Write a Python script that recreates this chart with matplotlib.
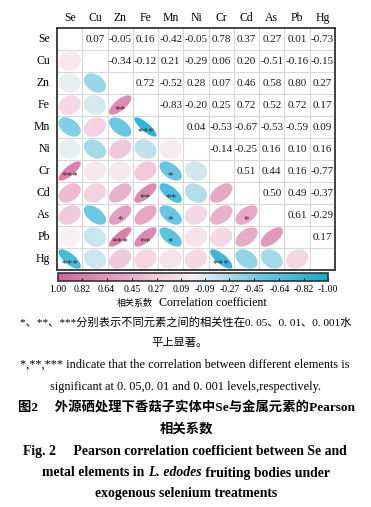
import numpy as np
import matplotlib
matplotlib.use("Agg")
import matplotlib.pyplot as plt
from matplotlib.colors import LinearSegmentedColormap, Normalize
from matplotlib.patches import Polygon
from matplotlib.cm import ScalarMappable

plt.rcParams['font.family'] = ['Liberation Serif', 'Noto Sans CJK SC']
plt.rcParams['axes.unicode_minus'] = False

# 元素顺序
elements = ['Se', 'Cu', 'Zn', 'Fe', 'Mn', 'Ni', 'Cr', 'Cd', 'As', 'Pb', 'Hg']

# 上三角相关系数（按行，从对角线右侧开始）
r_se = [0.07, -0.05, 0.16, -0.42, -0.05, 0.78, 0.37, 0.27, 0.01, -0.73]
r_cu = [-0.34, -0.12, 0.21, -0.29, 0.06, 0.20, -0.51, -0.16, -0.15]
r_zn = [0.72, -0.52, 0.28, 0.07, 0.46, 0.58, 0.80, 0.27]
r_fe = [-0.83, -0.20, 0.25, 0.72, 0.52, 0.72, 0.17]
r_mn = [0.04, -0.53, -0.67, -0.53, -0.59, 0.09]
r_ni = [-0.14, -0.25, 0.16, 0.10, 0.16]
r_cr = [0.51, 0.44, 0.16, -0.77]
r_cd = [0.50, 0.49, -0.37]
r_as = [0.61, -0.29]
r_pb = [0.17]
upper_rows = [r_se, r_cu, r_zn, r_fe, r_mn, r_ni, r_cr, r_cd, r_as, r_pb, []]

# 显著性标记（行元素, 列元素）
sig_marks = {('Fe', 'Zn'): '**', ('Mn', 'Fe'): '***', ('Cr', 'Se'): '***',
             ('Cr', 'Mn'): '*', ('Cd', 'Fe'): '**', ('Cd', 'Mn'): '**',
             ('As', 'Zn'): '*', ('As', 'Mn'): '*', ('As', 'Cd'): '*',
             ('Pb', 'Zn'): '***', ('Pb', 'Fe'): '**', ('Pb', 'Mn'): '*',
             ('Hg', 'Se'): '***', ('Hg', 'Cr'): '***'}

cbar_ticks = [1.00, 0.82, 0.64, 0.45, 0.27, 0.09, -0.09, -0.27, -0.45, -0.64, -0.82, -1.00]

n = len(elements)
corr = np.eye(n)
for i, row in enumerate(upper_rows):
    for k, v in enumerate(row):
        j = i + 1 + k
        corr[i, j] = v
        corr[j, i] = v

cmap = LinearSegmentedColormap.from_list('pinkblue', [
    (0.0, '#15aad5'), (0.25, '#6cc9e2'), (0.43, '#cfe7ef'), (0.5, '#f6f3f4'),
    (0.57, '#f5dbe6'), (0.75, '#e7aac6'), (1.0, '#d4619a')])
norm = Normalize(-1, 1)

W, H = 371, 507
fig = plt.figure(figsize=(W / 100, H / 100), dpi=100)


def px_ax(x0, y0, x1, y1):
    return fig.add_axes([x0 / W, 1 - y1 / H, (x1 - x0) / W, (y1 - y0) / H])


ax = px_ax(57, 28, 335, 270)
ax.set_xlim(0, n)
ax.set_ylim(n, 0)
ax.set_xticks([])
ax.set_yticks([])
for s in ax.spines.values():
    s.set_color('#333333')
    s.set_linewidth(1.3)
for g in range(1, n):
    ax.axhline(g, color='#d8d8d8', lw=0.8, zorder=0)
    ax.axvline(g, color='#d8d8d8', lw=0.8, zorder=0)

t = np.linspace(0, 2 * np.pi, 100)
size = 0.44
for i in range(n):
    for j in range(n):
        r = corr[i, j]
        if j > i:
            ax.text(j + 0.5, i + 0.52, f'{r:.2f}', ha='center', va='center',
                    fontsize=8, color='#1a1a1a')
        elif j < i:
            d = np.arccos(r)
            ex = np.cos(t + d / 2) * size
            ey = np.cos(t - d / 2) * size
            pts = np.column_stack([j + 0.5 + ex, i + 0.5 - ey])
            ax.add_patch(Polygon(pts, closed=True, facecolor=cmap(norm(r)),
                                 edgecolor='none', zorder=2))
            mark = sig_marks.get((elements[i], elements[j]))
            if mark:
                ax.text(j + 0.5, i + 0.72, mark, ha='center', va='center',
                        fontsize=8, color='#333333', zorder=3)

for k, name in enumerate(elements):
    ax.text(k + 0.5, -0.45, name, ha='center', va='center', fontsize=8.5,
            clip_on=False)
    ax.text(-0.28, k + 0.5, name, ha='right', va='center', fontsize=8.5,
            clip_on=False)

cax = px_ax(58, 272.5, 328, 281)
sm = ScalarMappable(norm=norm, cmap=cmap)
cb = fig.colorbar(sm, cax=cax, orientation='horizontal')
cax.set_xlim(1, -1)
cb.set_ticks(cbar_ticks)
cb.set_ticklabels([f'{v:.2f}' for v in cbar_ticks])
cax.tick_params(axis='x', direction='in', length=2.5, width=0.8, pad=3,
                labelsize=7, color='#222222')
cb.outline.set_edgecolor('#333333')
cb.outline.set_linewidth(1.2)


def ftext(x, y, s, ha='center', **kw):
    return fig.text(x / W, 1 - y / H, s, ha=ha, va='center', **kw)


ftext(117, 303, '相关系数', ha='left', fontsize=6.5)
ftext(267, 303, 'Correlation coefficient', ha='right', fontsize=8.6)
ftext(186, 322, '*、**、***分别表示不同元素之间的相关性在0. 05、0. 01、0. 001水', fontsize=8.1)
ftext(180, 343, '平上显著。', fontsize=8.1)
ftext(185, 365, '*,**,*** indicate that the correlation between different elements is', fontsize=8.8)
ftext(186, 387, 'significant at 0. 05,0. 01 and 0. 001 levels,respectively.', fontsize=8.8)
ftext(186, 408, '图2　 外源硒处理下香菇子实体中Se与金属元素的Pearson', fontsize=9.6,
      fontweight='bold')
ftext(186, 429, '相关系数', fontsize=9.6, fontweight='bold')
ftext(185, 452, 'Fig. 2     Pearson correlation coefficient between Se and', fontsize=9.9,
      fontweight='bold')
ftext(186, 494, 'exogenous selenium treatments', fontsize=9.9, fontweight='bold')

# 含斜体学名的一行，分段拼接
pieces = [('metal elements in ', 'normal'), ('L. edodes', 'italic'),
          (' fruiting bodies under', 'normal')]
renderer = fig.canvas.get_renderer()
arts = [ftext(0, 473, s, ha='left', fontsize=9.9, fontweight='bold', style=st)
        for s, st in pieces]
widths = [a.get_window_extent(renderer).width for a in arts]
x = 186 - sum(widths) / 2
for a, w in zip(arts, widths):
    a.set_x(x / W)
    x += w

fig.savefig('out.png', dpi=100)
